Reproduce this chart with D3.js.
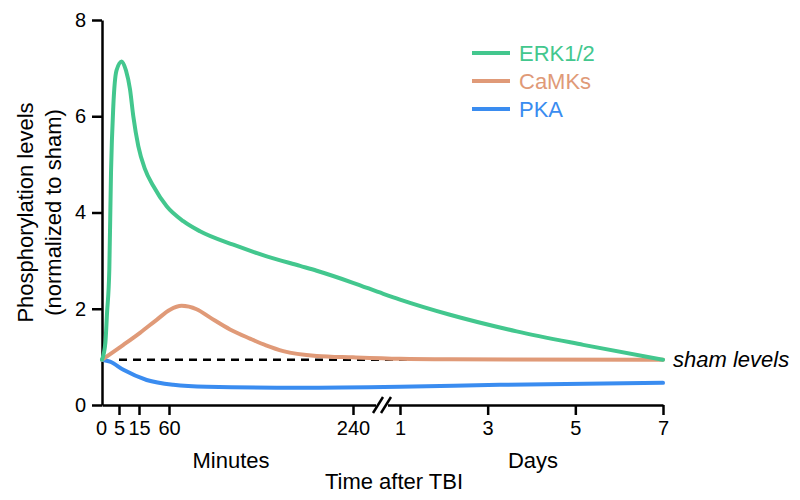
<!DOCTYPE html>
<html>
<head>
<meta charset="utf-8">
<script src="https://cdn.jsdelivr.net/npm/d3@7"></script>
<style>
body{margin:0;background:#fff}
svg text{font-family:"Liberation Sans",Arial,sans-serif;fill:#000}
</style>
</head>
<body>
<svg id="chart"></svg>
<script>
// time is in minutes after TBI (1 day = 1440 min)
var erkTime  = [0,1.0,1.47,2.15,2.65,3.32,4.26,6.35,8.5,10.5,12.15,14.65,24,36.5,56.5,74,90.3,122.9,155.6,188.2,204.5,240,1014,1440,3082,5271,7460,10080]
var erkLevel = [0.94,1.3,1.9,2.81,4.83,6.2,6.95,7.14,6.95,6.56,6.0,5.38,4.9,4.55,4.13,3.82,3.61,3.33,3.09,2.89,2.79,2.54,2.31,2.19,1.875,1.53,1.25,0.94]

var camkTime  = [0,7.2,16.5,41.5,61,72.4,87,100,119.7,139.2,154.9,171.8,204.5,240,1440,3082,10080]
var camkLevel = [0.94,1.25,1.5,1.77,1.98,2.06,1.99,1.82,1.57,1.38,1.24,1.12,1.02,0.99,0.96,0.95,0.94]

var pkaTime  = [0,2.35,7.2,26.5,64.2,97,188,1440,4723,10080]
var pkaLevel = [0.94,0.9,0.73,0.52,0.42,0.38,0.36,0.38,0.42,0.46]

var shamLevel = 0.94
var shamStart = 5

var minuteTicks = [0,5,15,60,240]
var dayTicks = [1,3,5,7]
var yTicks = [0,2,4,6,8]

var seriesNames = ["ERK1/2","CaMKs","PKA"]
var seriesColors = ["#43c78e","#e09a78","#3a8cf0"]

var screen = {width:800, height:500}
var margins = {top:20, bottom:95, left:102, right:137}
var graph = {
    width:screen.width-margins.left-margins.right,
    height:screen.height-margins.top-margins.bottom
}

var svg = d3.select("#chart")
    .attr("width", screen.width)
    .attr("height", screen.height)

// hand-drawn time axis: piecewise, minutes then days
var xScale = d3.scaleLinear()
    .domain([0,5,15,60,240,1440,10080])
    .range([0,17,37,67,251,298,graph.width])
var yScale = d3.scaleLinear()
    .domain([0,8])
    .range([graph.height,0])

var g = svg.append("g")
    .attr("transform","translate("+margins.left+","+margins.top+")")

// axes
var dayMin = dayTicks.map(function(d){return d*1440})
var xAxis = d3.axisBottom(xScale)
    .tickValues(minuteTicks.concat(dayMin))
    .tickSize(10).tickSizeOuter(0).tickPadding(6)
    .tickFormat(function(d){return d>=1440 ? d/1440 : d})
var yAxis = d3.axisLeft(yScale)
    .tickValues(yTicks)
    .tickSize(10).tickSizeOuter(0).tickPadding(6)

var xg = g.append("g")
    .attr("transform","translate(0,"+graph.height+")")
    .call(xAxis)
xg.selectAll(".tick").filter(function(d){return d==0}).select("line").remove()
xg.selectAll(".tick text").attr("dx", function(d){return d==0 ? -1 : 0})

var yg = g.append("g").call(yAxis)

svg.selectAll(".domain, .tick line")
    .attr("stroke","#000").attr("stroke-width",2.5)
svg.selectAll(".tick text")
    .attr("font-size",20).attr("fill","#000")
    .style("font-family","'Liberation Sans',Arial,sans-serif")

// axis break
var bx = xScale(1440)-18
var brk = g.append("g").attr("transform","translate("+bx+","+graph.height+")")
brk.append("rect").attr("x",-6).attr("y",-3).attr("width",12).attr("height",6).attr("fill","#fff")
;[-4,4].forEach(function(o){
    brk.append("line")
        .attr("x1",o-5).attr("y1",8)
        .attr("x2",o+5).attr("y2",-8)
        .attr("stroke","#000").attr("stroke-width",2.5)
})

// sham line
g.append("line")
    .attr("x1",xScale(shamStart)).attr("x2",xScale(10080))
    .attr("y1",yScale(shamLevel)).attr("y2",yScale(shamLevel))
    .attr("stroke","#000").attr("stroke-width",2.5)
    .attr("stroke-dasharray","8,6")

// curves
var line = d3.line()
    .x(function(d){return xScale(d[0])})
    .y(function(d){return yScale(d[1])})
    .curve(d3.curveMonotoneX)

var series = [
    d3.zip(erkTime, erkLevel),
    d3.zip(camkTime, camkLevel),
    d3.zip(pkaTime, pkaLevel)
]
series.slice().reverse().forEach(function(s,i){
    var k = series.length-1-i
    g.append("path")
        .attr("d", line(s))
        .attr("fill","none")
        .attr("stroke", seriesColors[k])
        .attr("stroke-width",4)
        .attr("stroke-linecap","round")
        .attr("stroke-linejoin","round")
})

// legend
var legend = svg.append("g").attr("transform","translate(472,53)")
seriesNames.forEach(function(n,i){
    var row = legend.append("g").attr("transform","translate(0,"+(i*28)+")")
    row.append("line").attr("x1",0).attr("x2",38)
        .attr("stroke",seriesColors[i]).attr("stroke-width",4)
    row.append("text").text(n)
        .attr("x",47).attr("y",0).attr("dy","0.35em")
        .attr("font-size",22)
        .style("fill",seriesColors[i])
})

// labels
svg.append("text").text("sham levels")
    .attr("x", margins.left+graph.width+10)
    .attr("y", margins.top+yScale(shamLevel)+7)
    .attr("font-size",22).attr("font-style","italic")

svg.append("text").text("Minutes")
    .attr("text-anchor","middle")
    .attr("x",231).attr("y",468).attr("font-size",22)
svg.append("text").text("Days")
    .attr("text-anchor","middle")
    .attr("x",533).attr("y",468).attr("font-size",22)
svg.append("text").text("Time after TBI")
    .attr("text-anchor","middle")
    .attr("x",394).attr("y",489).attr("font-size",22)

var ylab = svg.append("g").attr("transform","translate(0,"+(margins.top+graph.height/2)+") rotate(-90)")
ylab.append("text").text("Phosphorylation levels")
    .attr("text-anchor","middle").attr("x",0).attr("y",33).attr("font-size",22)
ylab.append("text").text("(normalized to sham)")
    .attr("text-anchor","middle").attr("x",0).attr("y",61).attr("font-size",22)
</script>
</body>
</html>
